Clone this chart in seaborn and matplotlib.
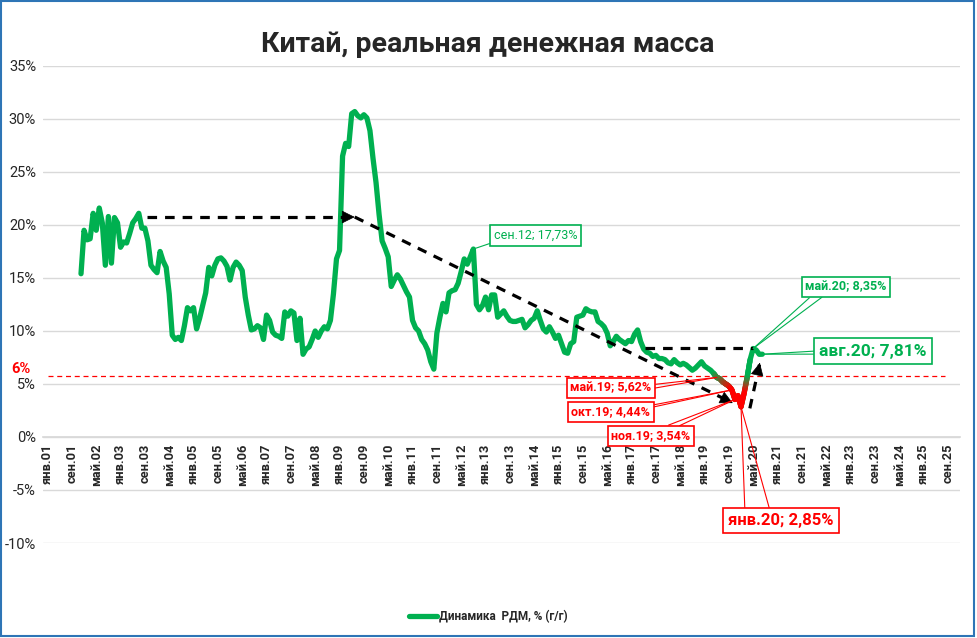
import numpy as np
import pandas as pd
import matplotlib
matplotlib.use("Agg")
import matplotlib.pyplot as plt
import seaborn as sns
from matplotlib.collections import LineCollection
from matplotlib.lines import Line2D
from matplotlib.patches import Rectangle
from matplotlib.transforms import blended_transform_factory

# реальная денежная масса, % г/г, помесячно с дек.2001 по авг.2020
start_month = 11  # месяцев от янв.2001
rdm = [
    15.4,
    19.5, 18.6, 18.7, 21.1, 19.5, 21.6, 20.2, 16.2, 20.8, 16.4, 20.7, 20.2,   # 2002
    17.9, 18.4, 18.3, 19.2, 20.2, 20.6, 21.1, 19.7, 19.7, 18.5, 16.2, 15.8,   # 2003
    15.5, 17.5, 16.6, 16.0, 13.5, 9.6, 9.2, 9.4, 9.1, 10.5, 12.2, 11.9,       # 2004
    12.2, 10.2, 11.2, 12.4, 13.6, 16.0, 15.2, 16.2, 16.8, 16.9, 16.6, 16.1,   # 2005
    14.8, 16.0, 16.5, 16.2, 15.7, 13.2, 11.5, 10.1, 10.2, 10.5, 10.3, 9.2,    # 2006
    11.5, 11.0, 9.9, 9.6, 9.5, 9.3, 11.8, 11.4, 11.9, 11.7, 9.1, 11.2,        # 2007
    7.8, 8.3, 8.5, 9.2, 10.0, 9.4, 10.0, 10.4, 10.2, 11.0, 13.5, 16.8,        # 2008
    17.6, 26.5, 27.7, 27.4, 30.5, 30.7, 30.3, 30.1, 30.4, 30.1, 28.9, 26.3,   # 2009
    24.0, 21.0, 18.5, 17.8, 17.0, 14.2, 14.8, 15.3, 14.9, 14.3, 13.7, 13.2,   # 2010
    11.0, 10.3, 10.0, 9.2, 8.8, 8.2, 7.1, 6.4, 9.8, 11.3, 12.6, 11.8,         # 2011
    13.6, 13.8, 13.9, 14.5, 15.6, 16.8, 16.3, 17.0, 17.73, 12.5, 12.0, 12.4,  # 2012
    13.2, 12.0, 13.4, 13.4, 11.3, 11.6, 11.9, 11.4, 11.0, 10.9, 10.9, 11.0,   # 2013
    11.1, 10.3, 10.6, 11.0, 11.2, 11.9, 11.0, 10.2, 9.9, 10.4, 9.9, 9.3,      # 2014
    9.6, 8.8, 8.0, 7.9, 8.8, 9.0, 11.3, 11.4, 11.5, 12.1, 11.9, 11.8,         # 2015
    11.8, 10.9, 10.7, 10.4, 9.8, 8.6, 9.0, 9.5, 9.2, 9.0, 8.8, 9.1,           # 2016
    9.0, 9.7, 10.1, 9.0, 8.3, 8.0, 7.9, 7.6, 7.7, 7.4, 7.4, 7.3,              # 2017
    7.0, 6.9, 7.3, 7.0, 6.8, 6.95, 6.8, 6.55, 6.3, 6.5, 6.8, 7.1,             # 2018
    6.7, 6.5, 6.3, 6.0, 5.62, 5.5, 5.2, 5.0, 4.8, 4.44, 3.54, 3.9,            # 2019
    2.85, 4.1, 5.6, 7.3, 8.35, 8.2, 7.8, 7.81,                                # 2020
]
month_names = ["янв", "фев", "мар", "апр", "май", "июн",
               "июл", "авг", "сен", "окт", "ноя", "дек"]
level_6 = 5.8

GREEN = "#00B050"
RED = "#FF0000"

m = np.arange(start_month, start_month + len(rdm))
vals = np.array(rdm)
df = pd.DataFrame({"m": m, "v": vals})

sns.set_theme(style="white")
plt.rcParams["font.family"] = ["Roboto", "DejaVu Sans"]
plt.rcParams["axes.unicode_minus"] = False

fig = plt.figure(figsize=(9.77, 6.38), dpi=100)
ax = fig.add_axes([0.044, 0.1489, 0.9386, 0.7477])

# сетка
for g in range(-10, 36, 5):
    ax.axhline(g, color="#D9D9D9", lw=1, zorder=0)

# красная пунктирная 6%
ax.plot([0, 295], [level_6, level_6], color=RED, lw=0.9, ls=(0, (4, 3)), zorder=1)

sns.lineplot(data=df, x="m", y="v", ax=ax, color=GREEN, lw=3.8, zorder=3,
             legend=False)

# красный градиент в провале 2019-2020
g_rgb = np.array(matplotlib.colors.to_rgb(GREEN))
r_rgb = np.array(matplotlib.colors.to_rgb(RED))
segs, cols = [], []
for i in range(len(vals) - 1):
    if min(vals[i], vals[i + 1]) < 6.0:
        xs = np.linspace(m[i], m[i + 1], 9)
        ys = np.linspace(vals[i], vals[i + 1], 9)
        for k in range(8):
            segs.append([(xs[k], ys[k]), (xs[k + 1], ys[k + 1])])
            t = np.clip((6.0 - (ys[k] + ys[k + 1]) / 2) / 1.5, 0, 1)
            cols.append((1 - t) * g_rgb + t * r_rgb)
lc = LineCollection(segs, colors=cols, linewidths=3.8, capstyle="round", zorder=4)
ax.add_collection(lc)

# пунктирные стрелки
dash = dict(color="black", lw=2.3, ls=(0, (3, 2.5)), zorder=5)


def dashed_arrow(x0, y0, x1, y1, head=True):
    ax.plot([x0, x1], [y0, y1], **dash)
    if head:
        ax.annotate("", xy=(x1, y1), xytext=(x0 + (x1 - x0) * 0.98, y0 + (y1 - y0) * 0.98),
                    arrowprops=dict(arrowstyle="-|>,head_length=0.7,head_width=0.35",
                                    color="black", lw=0.5, shrinkA=0, shrinkB=0),
                    zorder=6)


dashed_arrow(32.6, 20.75, 101, 20.75)
dashed_arrow(101, 20.75, 225.3, 3.2)
dashed_arrow(196.5, 8.4, 232, 8.4, head=False)
dashed_arrow(230.9, 2.7, 234.2, 7.0)

# оси
for s in ["top", "right", "left"]:
    ax.spines[s].set_visible(False)
ax.spines["bottom"].set_position(("data", 0))
ax.spines["bottom"].set_color("#D9D9D9")
ax.set_xlim(-1.5, 300)
ax.set_ylim(-10, 35)

ticks = list(range(0, 300, 8))
ax.set_xticks(ticks)
ax.set_xticklabels([f"{month_names[t % 12]}.{(1 + t // 12):02d}" for t in ticks],
                   rotation=90, fontweight="bold", fontsize=9.3)
ax.set_yticks(range(-10, 36, 5))
ax.set_yticklabels([f"{v}%" for v in range(-10, 36, 5)], fontsize=10.5)
ax.tick_params(axis="both", length=0, pad=5)
ax.tick_params(axis="x", pad=4.5)
ax.set_xlabel("")
ax.set_ylabel("")

# выноски
leaders = []


def callout(text, xy, xytext, color, size, rels, bold=True):
    bb = dict(boxstyle="square,pad=0.3", fc="white", ec=color, lw=1.2)
    main = ax.annotate(text, xy=xy, xytext=xytext,
                       ha="center", va="center", color=color, fontsize=size,
                       fontweight="bold" if bold else "normal", bbox=bb,
                       arrowprops=dict(arrowstyle="-", color=color, lw=0.8,
                                       relpos=rels[0], shrinkA=0, shrinkB=0),
                       zorder=8)
    for rp in rels[1:]:
        leaders.append((main, xy, rp, color))


callout("сен.12; 17,73%", (140, 17.73), (160.5, 19.0), GREEN, 9, [(0, 0)], bold=False)
callout("май.20; 8,35%", (232, 8.35), (262.5, 14.15), GREEN, 9, [(0.11, 0), (0.23, 0)])
callout("авг.20; 7,81%", (235, 7.81), (271.4, 8.1), GREEN, 12.5, [(0, 0.3), (0, 0.5)])
callout("май.19; 5,62%", (220, 5.62), (185.2, 4.62), RED, 9, [(1, 0.75), (1, 0.5)])
callout("окт.19; 4,44%", (225, 4.44), (185.2, 2.36), RED, 9, [(1, 1), (1, 0.75)])
callout("ноя.19; 3,54%", (226, 3.54), (198.4, 0.1), RED, 9, [(0.58, 1), (0.83, 1)])
callout("янв.20; 2,85%", (228, 2.85), (241.1, -7.9), RED, 12, [(0.16, 1), (0.4, 1)])

tr = blended_transform_factory(ax.transAxes, ax.transData)
ax.text(-0.014, 6.4, "6%", transform=tr, ha="right", va="center", color=RED,
        fontsize=10.5, fontweight="bold")

fig.suptitle("Китай, реальная денежная масса", x=0.499, y=0.952, fontsize=20.5,
             fontweight="bold")

handle = Line2D([0], [0], color=GREEN, lw=3.8)
fig.legend([handle], ["Динамика  РДМ, % (г/г)"], loc="center",
           bbox_to_anchor=(0.5, 0.033), frameon=False, handlelength=2.3,
           handletextpad=0.2, prop=dict(weight="bold", size=8.5))

fig.patches.append(Rectangle((0.001, 0.003), 0.996, 0.995, transform=fig.transFigure,
                             fill=False, ec="#2E75B6", lw=1.5))

# вторые линии выносок (клин) — после отрисовки, когда рамки известны
fig.canvas.draw()
renderer = fig.canvas.get_renderer()
inv = ax.transData.inverted()
for main, xy, rp, color in leaders:
    bb = main.get_bbox_patch().get_window_extent(renderer)
    px = bb.x0 + rp[0] * bb.width
    py = bb.y0 + rp[1] * bb.height
    ex, ey = inv.transform((px, py))
    ax.plot([xy[0], ex], [xy[1], ey], color=color, lw=0.8, zorder=7)

fig.savefig("out.png", dpi=100)
